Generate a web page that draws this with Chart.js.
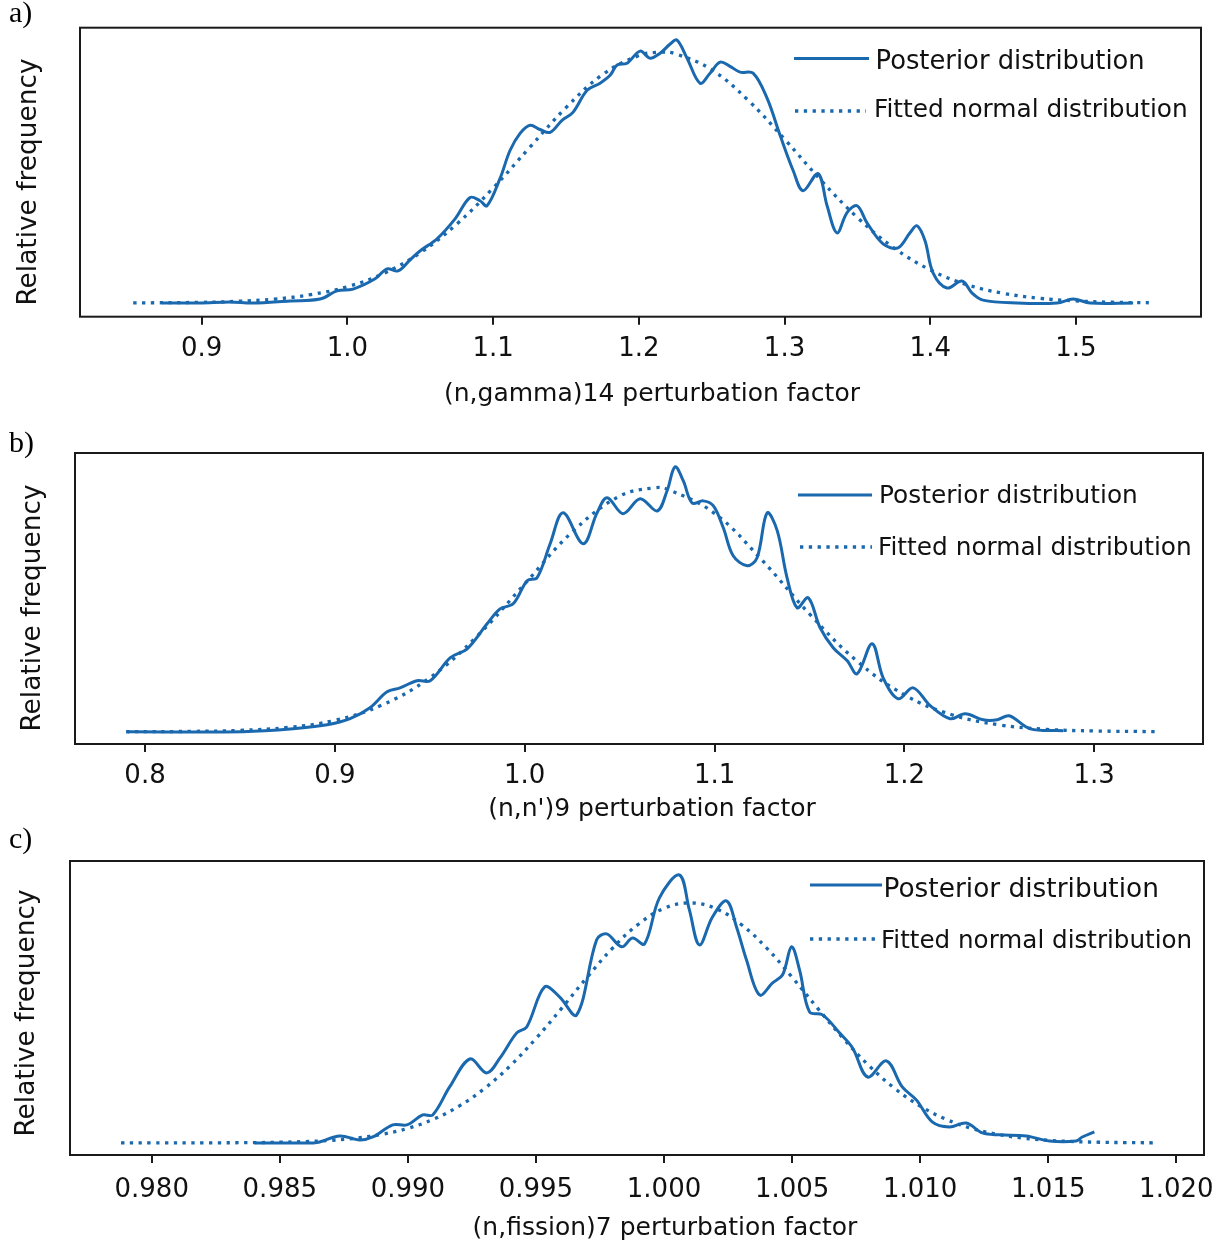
<!DOCTYPE html>
<html>
<head>
<meta charset="utf-8">
<script src="https://cdn.jsdelivr.net/npm/chart.js@4.4.1/dist/chart.umd.min.js"></script>
<style>
html,body{margin:0;padding:0;background:#fff;width:1228px;height:1245px;overflow:hidden;position:relative;}
canvas{position:absolute;left:0;}
.pl{position:absolute;font-family:"Liberation Serif",serif;font-size:30px;line-height:30px;color:#000;white-space:nowrap;}
.xt{position:absolute;width:700px;text-align:center;font-family:"DejaVu Sans",sans-serif;font-size:25px;line-height:30px;height:30px;color:#111;white-space:nowrap;}
.yt{position:absolute;width:400px;text-align:center;font-family:"DejaVu Sans",sans-serif;font-size:26.4px;line-height:30px;height:30px;color:#111;white-space:nowrap;transform:rotate(-90deg);transform-origin:50% 50%;}
</style>
</head>
<body>
<canvas id="ca" width="1228" height="410" style="top:0px"></canvas>
<canvas id="cb" width="1228" height="410" style="top:420px"></canvas>
<canvas id="cc" width="1228" height="410" style="top:835px"></canvas>

<div class="pl" style="left:9px;top:-3px">a)</div>
<div class="pl" style="left:9px;top:427px">b)</div>
<div class="pl" style="left:9px;top:823px">c)</div>

<div class="yt" style="left:-173px;top:167px">Relative frequency</div>
<div class="yt" style="left:-169px;top:593px">Relative frequency</div>
<div class="yt" style="left:-175px;top:998px">Relative frequency</div>

<div class="xt" style="left:302px;top:378px">(n,gamma)14 perturbation factor</div>
<div class="xt" style="left:302px;top:793px">(n,n')9 perturbation factor</div>
<div class="xt" style="left:315px;top:1212px">(n,fission)7 perturbation factor</div>

<script>
// ---------- Panel a: (n,gamma)14 ----------
const aPostX = [0.8728,0.8988,0.9194,0.9352,0.9606,0.9812,0.9929,1.0039,1.0190,1.0272,1.0347,1.0430,1.0498,1.0615,1.0739,1.0842,1.0910,1.0958,1.1047,1.1116,1.1185,1.1253,1.1322,1.1391,1.1473,1.1548,1.1645,1.1734,1.1803,1.1851,1.1919,1.2009,1.2077,1.2146,1.2215,1.2262,1.2331,1.2420,1.2489,1.2558,1.2626,1.2695,1.2784,1.2880,1.2970,1.3059,1.3127,1.3230,1.3292,1.3360,1.3429,1.3498,1.3566,1.3676,1.3779,1.3861,1.3909,1.3964,1.4019,1.4115,1.4218,1.4287,1.4362,1.4596,1.4870,1.4980,1.5097,1.5392];
const aPostY = [0,0,0.4,0,0.8,1.5,4.6,5.3,9.2,13.0,12.2,16.4,19.8,24.4,32,40.1,38.9,37.0,47.3,58,64.5,67.6,66,64.9,69.5,72.5,80.9,83.6,86.6,90.5,91.2,95.8,93.1,95,98.5,100,93.1,83.6,87.4,91.6,90,87.8,87.4,77.9,63.7,50.4,42.7,49.2,37,26.7,34.4,37,30.5,22.5,21,26.7,29.4,23.7,11.5,5.7,8.4,3.8,1.1,0,0,1.5,0,0];
const aFitX = [0.853,0.90,0.925,0.95,0.975,1.00,1.025,1.05,1.075,1.10,1.125,1.15,1.175,1.20,1.215,1.225,1.25,1.275,1.30,1.325,1.35,1.375,1.40,1.425,1.45,1.475,1.50,1.525,1.55];
const aFitY = [0.04,0.27,0.66,1.5,3.2,6.2,11.3,19.1,30.0,43.7,59.1,74.3,86.8,94.1,95.4,94.8,88.7,77.1,62.3,46.7,32.5,21.0,12.6,7.0,3.7,1.8,0.8,0.3,0.1];
const aTicks = [0.9,1.0,1.1,1.2,1.3,1.4,1.5];
const aTickLabels = ['0.9','1.0','1.1','1.2','1.3','1.4','1.5'];

// ---------- Panel b: (n,n')9 ----------
const bPostX = [0.7910,0.8516,0.8780,0.8959,0.9080,0.9185,0.9275,0.9343,0.9433,0.9502,0.9607,0.9697,0.9802,0.9870,0.9939,1.0013,1.0065,1.0134,1.0202,1.0308,1.0381,1.0434,1.0518,1.0608,1.0698,1.0750,1.0792,1.0835,1.0882,1.0940,1.0993,1.1046,1.1098,1.1172,1.1224,1.1277,1.1330,1.1382,1.1435,1.1493,1.1556,1.1625,1.1699,1.1751,1.1830,1.1888,1.1967,1.2046,1.2136,1.2241,1.2320,1.2415,1.2489,1.2552,1.2663,1.2837];
const bPostY = [0,0,1.1,2.6,4.9,9,15,16.5,19.2,19.2,27.8,31.2,40.6,46.2,48.1,56.8,57.9,70.7,82.3,70.7,82.3,88,82,87.6,83,90.6,99.6,94.4,86,86.8,85,76.7,66.2,62.4,65.4,82.3,75.6,57.9,46.6,50.4,39.1,31.6,26.7,21.8,33.1,20.3,12.4,16.5,9.8,4.9,6.8,4.5,4.5,6,1.1,0.4];
const bFitX = [0.790,0.825,0.850,0.875,0.900,0.925,0.950,0.975,1.000,1.025,1.050,1.068,1.075,1.100,1.125,1.150,1.175,1.200,1.225,1.250,1.275,1.300,1.332];
const bFitY = [0,0.15,0.54,1.6,4.3,10.1,20.3,36.0,55.6,75.1,88.6,91.7,91.2,82.1,64.5,44.3,26.6,13.9,6.4,2.6,0.9,0.3,0.05];
const bTicks = [0.8,0.9,1.0,1.1,1.2,1.3];
const bTickLabels = ['0.8','0.9','1.0','1.1','1.2','1.3'];

// ---------- Panel c: (n,fission)7 ----------
const cPostX = [0.98403,0.98578,0.98644,0.98734,0.98812,0.98863,0.98941,0.98996,0.99058,0.99097,0.99163,0.99242,0.99308,0.99359,0.99425,0.99464,0.99534,0.99592,0.99659,0.99737,0.99776,0.99835,0.99877,0.99924,0.99982,1.00060,1.00099,1.00138,1.00189,1.00244,1.00283,1.00322,1.00373,1.00424,1.00463,1.00498,1.00529,1.00568,1.00619,1.00685,1.00736,1.00795,1.00868,1.00930,1.00985,1.01047,1.01114,1.01180,1.01243,1.01309,1.01414,1.01504,1.01609,1.01633,1.01680];
const cPostY = [0,0,0.1,2.6,1.1,2.2,6.7,6.7,10.4,10.4,20.8,31.2,26,31.5,40.9,43.1,58,54.3,47.6,75.5,77.7,72.9,76.2,74,91.1,99.6,86.6,73.6,84,90,80.3,68,55,59.5,62.5,72.9,64.3,48.7,47.6,40.9,35.3,24.5,30.5,20.8,16,7.8,5.9,7.4,3.7,3,2.6,0.7,0.7,2.2,4.1];
const cFitX = [0.9788,0.980,0.982,0.984,0.985,0.986,0.987,0.988,0.989,0.990,0.991,0.992,0.993,0.994,0.995,0.996,0.997,0.998,0.999,1.000,1.001,1.002,1.003,1.004,1.005,1.006,1.007,1.008,1.009,1.010,1.011,1.012,1.013,1.014,1.015,1.016,1.017,1.018,1.0191];
const cFitY = [0,0,0.02,0.11,0.24,0.49,0.96,1.8,3.2,5.4,8.8,13.7,20.3,28.7,38.8,50.0,61.6,72.5,81.3,87.2,89.2,87.2,81.3,72.5,61.6,50.0,38.8,28.7,20.3,13.7,8.8,5.4,3.2,1.8,0.96,0.49,0.24,0.11,0.04];
const cTicks = [0.980,0.985,0.990,0.995,1.000,1.005,1.010,1.015,1.020];
const cTickLabels = ['0.980','0.985','0.990','0.995','1.000','1.005','1.010','1.015','1.020'];

const seriesNames = ['Posterior distribution','Fitted normal distribution'];
const BLUE = '#1a68ae';

function pts(xs, ys){ return xs.map((x,i)=>({x:x, y:ys[i]})); }

const boxPlugin = {
  id:'boxAndLegend',
  afterDraw(chart){
    const o = chart.options.plugins.boxAndLegend;
    const ctx = chart.ctx, a = chart.chartArea;
    ctx.save();
    ctx.strokeStyle = '#1a1a1a';
    ctx.lineWidth = 2;
    ctx.setLineDash([]);
    ctx.strokeRect(a.left, a.top, a.right - a.left, a.bottom - a.top);
    const L = o.legend;
    ctx.fillStyle = '#111';
    ctx.textBaseline = 'alphabetic';
    ctx.textAlign = 'left';
    L.items.forEach((it, i) => {
      ctx.strokeStyle = BLUE;
      ctx.lineWidth = i === 0 ? 3 : 3.3;
      ctx.lineCap = 'butt';
      ctx.setLineDash(i === 0 ? [] : [3.3, 5.5]);
      ctx.beginPath();
      ctx.moveTo(it.x1, it.ly - o.top);
      ctx.lineTo(it.x2, it.ly - o.top);
      ctx.stroke();
      ctx.setLineDash([]);
      ctx.font = it.fs + 'px "DejaVu Sans"';
      ctx.fillText(seriesNames[i], it.tx, it.tb - o.top);
    });
    ctx.restore();
  }
};

function makePanel(id, top, box, xr, yr, ticks, labels, post, fit, legend, tickPad){
  const canvasH = 410;
  const hx = 60;
  new Chart(document.getElementById(id), {
    type:'line',
    data:{ datasets:[
      { label: seriesNames[0], data: post, borderColor: BLUE, borderWidth: 3, pointRadius: 0, tension: 0.35, fill:false },
      { label: seriesNames[1], data: fit, borderColor: BLUE, borderWidth: 3.3, borderDash:[3.3,5.5], pointRadius: 0, tension: 0.4, fill:false }
    ]},
    plugins:[boxPlugin],
    options:{
      responsive:false, animation:false, events:[],
      layout:{ padding:{ left: box.left, right: 1228 - box.right, top: box.top - top, bottom: canvasH - (box.bottom - top) - hx } },
      plugins:{ legend:{display:false}, tooltip:{enabled:false}, title:{display:false},
        boxAndLegend:{ top: top, legend: legend } },
      scales:{
        x:{ type:'linear', min: xr[0], max: xr[1],
            afterBuildTicks: (s) => { s.ticks = ticks.map(v => ({value:v})); },
            afterFit: (s) => { s.height = hx; },
            ticks:{ autoSkip:false, maxRotation:0, minRotation:0, padding: tickPad, color:'#111',
                    font:{ family:'"DejaVu Sans"', size:26 },
                    callback: (v, i) => labels[i] },
            grid:{ display:true, drawOnChartArea:false, drawTicks:true, tickLength:8, color:'#1a1a1a', lineWidth:2 },
            border:{ display:false } },
        y:{ type:'linear', display:false, min: yr[0], max: yr[1] }
      }
    }
  });
}

makePanel('ca', 0, {left:80, right:1201, top:27.7, bottom:316.7}, [0.8165, 1.5858], [-5.2, 104.7],
  aTicks, aTickLabels, pts(aPostX, aPostY), pts(aFitX, aFitY),
  { items:[ {x1:794, x2:869, ly:58.5, tx:875.5, tb:68.5, fs:25.8}, {x1:795, x2:866, ly:111, tx:874, tb:116.7, fs:24.8} ] }, 9);

makePanel('cb', 420, {left:75, right:1203, top:453, bottom:744}, [0.7631, 1.3573], [-4.6, 104.8],
  bTicks, bTickLabels, pts(bPostX, bPostY), pts(bFitX, bFitY),
  { items:[ {x1:798, x2:872, ly:495, tx:879, tb:502.7, fs:24.8}, {x1:800, x2:872, ly:547, tx:878, tb:555, fs:24.8} ] }, 9);

makePanel('cc', 835, {left:70, right:1204, top:861, bottom:1155}, [0.97681, 1.02108], [-4.5, 104.8],
  cTicks, cTickLabels, pts(cPostX, cPostY), pts(cFitX, cFitY),
  { items:[ {x1:810, x2:882, ly:885, tx:883.5, tb:896.7, fs:26.4}, {x1:810, x2:880, ly:939, tx:881, tb:948.3, fs:24.6} ] }, 12);
</script>
</body>
</html>
